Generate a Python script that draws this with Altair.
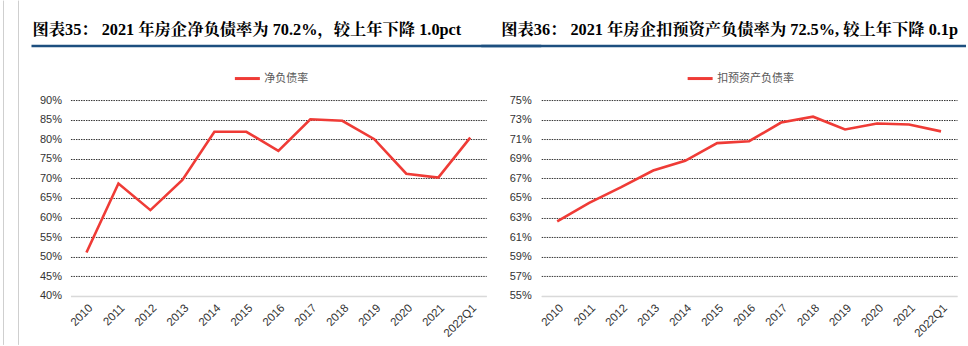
import altair as alt
import pandas as pd

years = ["2010", "2011", "2012", "2013", "2014", "2015", "2016", "2017", "2018",
         "2019", "2020", "2021", "2022Q1"]
net_debt = [51.1, 68.7, 61.9, 69.6, 81.9, 81.9, 77.0, 85.1, 84.7, 80.0, 71.2, 70.2, 80.4]
adj_debt = [62.6, 64.5, 66.1, 67.8, 68.8, 70.6, 70.8, 72.7, 73.3, 72.0, 72.6, 72.5, 71.8]

left_series = "净负债率"
right_series = "扣预资产负债率"
left_title = "图表35：  2021 年房企净负债率为 70.2%，较上年下降 1.0pct"
right_title = "图表36：  2021 年房企扣预资产负债率为 72.5%, 较上年下降 0.1pct"
left_ticks = list(range(40, 91, 5))
right_ticks = list(range(55, 76, 2))

RED = "#ef3b36"
BLUE = "#1d4f7f"
W, H = 416, 196
AXIS_FONT = "Liberation Sans"
CJK = "Noto Sans CJK SC"
TITLE_FONT = "Liberation Serif, Noto Serif CJK SC, Noto Sans CJK SC"


def panel(values, series, title, ticks, lo, hi, legend_x, title_x, rule_x, rule_x2,
          label_pad, vlines):
    df = pd.DataFrame({"year": years, "value": values, "series": series})
    first = ticks[0]
    line = alt.Chart(df).mark_line(strokeWidth=2.6).encode(
        x=alt.X("year:N", sort=None, title=None,
                axis=alt.Axis(labelAngle=-45, ticks=False, domain=True,
                              domainColor="#d9d9d9", domainWidth=1.5,
                              labelFont=AXIS_FONT, labelFontSize=11.5,
                              labelColor="#333333", labelPadding=6, grid=False)),
        y=alt.Y("value:Q", title=None,
                scale=alt.Scale(domain=[lo, hi], nice=False, zero=False),
                axis=alt.Axis(values=ticks, labelExpr="datum.value + '%'",
                              ticks=False, domain=False, grid=True,
                              gridColor={"condition": {"test": f"datum.value <= {first}",
                                                       "value": "#d9d9d9"},
                                         "value": "#333333"},
                              gridDash={"condition": {"test": f"datum.value <= {first}",
                                                      "value": []},
                                        "value": [1.5, 1]},
                              gridWidth=1, labelFont=AXIS_FONT, labelFontSize=11,
                              labelColor="#333333", labelPadding=label_pad)),
        color=alt.Color("series:N", scale=alt.Scale(range=[RED]),
                        legend=alt.Legend(orient="none", legendX=legend_x, legendY=-35.5,
                                          title=None, symbolType="stroke",
                                          symbolSize=625, symbolStrokeWidth=3,
                                          labelFont=CJK, labelFontSize=11,
                                          labelColor="#595959", labelOffset=3,
                                          padding=0)),
    )
    tdf = pd.DataFrame({"t": [title]})
    ttl = alt.Chart(tdf).mark_text(align="left", baseline="middle", font=TITLE_FONT,
                                   fontSize=16.3, fontWeight="bold", color="#000000",
                                   limit=968 - 501 - 1, ellipsis="\u200b").encode(
        x=alt.value(title_x), y=alt.value(-70), text="t:N")
    rule = alt.Chart(tdf).mark_rule(color=BLUE, strokeWidth=2.5).encode(
        x=alt.value(rule_x), x2=alt.value(rule_x2), y=alt.value(-54))
    layers = [line, ttl, rule]
    for vx in vlines:
        layers.append(alt.Chart(tdf).mark_rule(color="#cfcfcf", strokeWidth=1).encode(
            x=alt.value(vx), y=alt.value(-99.5), y2=alt.value(245)))
    return alt.layer(*layers).properties(width=W, height=H)


left = panel(net_debt, left_series, left_title, left_ticks, 40, 90,
             legend_x=163, title_x=-38, rule_x=-39, rule_x2=471, label_pad=9,
             vlines=[-67, -52])
right = panel(adj_debt, right_series, right_title, right_ticks, 55, 75,
              legend_x=145, title_x=-40, rule_x=-60, rule_x2=425, label_pad=10,
              vlines=[])

chart = alt.hconcat(left, right, spacing=55, bounds="flush").resolve_scale(
    color="independent"
).resolve_legend(color="independent").properties(
    padding={"left": 2.5, "top": 0, "right": 0, "bottom": 0},
    background="white",
).configure_view(stroke=None)

chart.save("out.html", embed_options={"renderer": "svg", "actions": False})
